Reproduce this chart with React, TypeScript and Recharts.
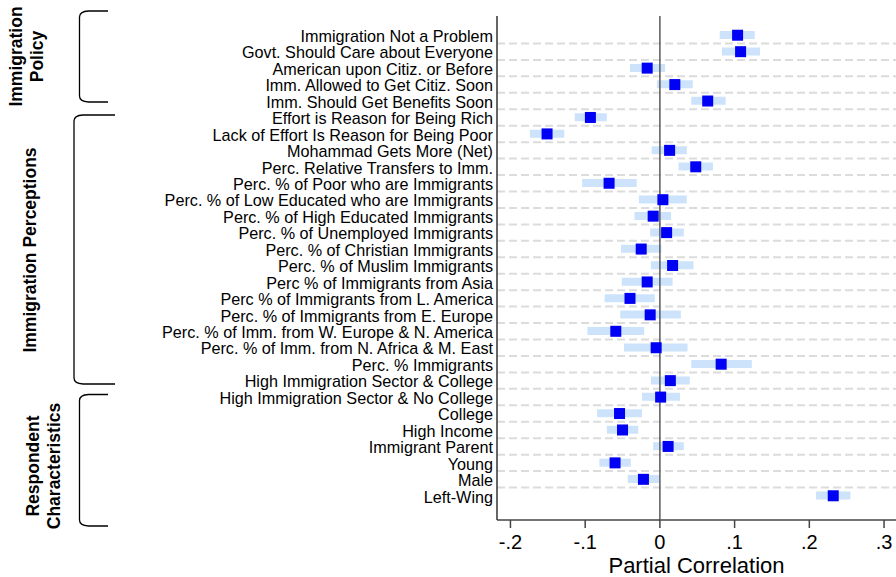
import React from "react";
import { Bar, ComposedChart, Line, ReferenceLine, XAxis, YAxis } from "recharts";

// Coefficient plot: partial correlations with 95% CI bands, grouped by bracketed blocks.
const labels = [
  "Immigration Not a Problem",
  "Govt. Should Care about Everyone",
  "American upon Citiz. or Before",
  "Imm. Allowed to Get Citiz. Soon",
  "Imm. Should Get Benefits Soon",
  "Effort is Reason for Being Rich",
  "Lack of Effort Is Reason for Being Poor",
  "Mohammad Gets More (Net)",
  "Perc. Relative Transfers to Imm.",
  "Perc. % of Poor who are Immigrants",
  "Perc. % of Low Educated who are Immigrants",
  "Perc. % of High Educated Immigrants",
  "Perc. % of Unemployed Immigrants",
  "Perc. % of Christian Immigrants",
  "Perc. % of Muslim Immigrants",
  "Perc % of Immigrants from Asia",
  "Perc % of Immigrants from L. America",
  "Perc. % of Immigrants from E. Europe",
  "Perc. % of Imm. from W. Europe & N. America",
  "Perc. % of Imm. from N. Africa & M. East",
  "Perc. % Immigrants",
  "High Immigration Sector & College",
  "High Immigration Sector & No College",
  "College",
  "High Income",
  "Immigrant Parent",
  "Young",
  "Male",
  "Left-Wing",
];

const estimates = [
  0.104, 0.108, -0.017, 0.02, 0.064, -0.093, -0.151, 0.013, 0.048, -0.068,
  0.004, -0.009, 0.009, -0.025, 0.017, -0.017, -0.04, -0.013, -0.059, -0.005,
  0.082, 0.014, 0.001, -0.054, -0.05, 0.011, -0.06, -0.022, 0.232,
];

const lower = [
  0.08, 0.083, -0.04, -0.004, 0.042, -0.114, -0.174, -0.011, 0.025, -0.104,
  -0.028, -0.034, -0.013, -0.052, -0.012, -0.051, -0.074, -0.053, -0.097, -0.048,
  0.042, -0.012, -0.024, -0.084, -0.071, -0.009, -0.081, -0.043, 0.209,
];

const upper = [
  0.127, 0.134, 0.007, 0.044, 0.088, -0.071, -0.128, 0.036, 0.071, -0.031,
  0.036, 0.015, 0.032, 0.002, 0.045, 0.017, -0.007, 0.028, -0.021, 0.037,
  0.123, 0.04, 0.027, -0.024, -0.029, 0.032, -0.039, -0.001, 0.255,
];

const xTicks = [-0.2, -0.1, 0, 0.1, 0.2, 0.3];

// row index doubles as the numeric position on the y axis
const rows = labels.map((label, i) => ({
  pos: i,
  label,
  est: estimates[i],
  ci: [lower[i], upper[i]],
}));

const rowTicks = labels.map((_, i) => i);
const gridLines = labels.slice(1).map((_, i) => i + 0.5);

const fmtTick = (v: number) => {
  if (v === 0) return "0";
  const s = String(Math.round(v * 10) / 10);
  return s.replace("0.", ".");
};

const FONT = '"Liberation Sans", Arial, Helvetica, sans-serif';

const Square = (props: any) => {
  const { cx, cy, index } = props;
  if (cx == null || cy == null) return <g key={`sq-${index}`} />;
  return <rect key={`sq-${index}`} x={cx - 5.5} y={cy - 5.5} width={11} height={11} fill="#0000f5" />;
};

function Bracket({ x, top, bottom, end }: { x: number; top: number; bottom: number; end: number }) {
  const d = `M ${end} ${top} L ${x + 9} ${top} Q ${x} ${top + 0.5} ${x} ${top + 6} L ${x} ${bottom - 6} Q ${x} ${bottom - 0.5} ${x + 9} ${bottom} L ${end} ${bottom}`;
  return <path d={d} fill="none" stroke="#000" strokeWidth={1.3} />;
}

function GroupText({ x, y, text }: { x: number; y: number; text: string }) {
  return (
    <text
      transform={`translate(${x},${y}) rotate(-90)`}
      textAnchor="middle"
      fontSize={17.5}
      fontWeight="bold"
      fontFamily={FONT}
      fill="#000"
    >
      {text}
    </text>
  );
}

export default function App() {
  return (
    <div style={{ position: "absolute", left: 0, top: 0, width: 896, height: 577, background: "#fff", fontFamily: FONT }}>
      <ComposedChart
        width={896}
        height={577}
        data={rows}
        layout="vertical"
        margin={{ top: 16, right: 0, bottom: 0, left: 0 }}
      >
        <XAxis
          type="number"
          domain={[-0.218, 0.316]}
          allowDataOverflow
          ticks={xTicks}
          tickFormatter={fmtTick}
          height={57}
          tickSize={8}
          tickMargin={7}
          axisLine={{ stroke: "#444", strokeWidth: 1.5 }}
          tickLine={{ stroke: "#444", strokeWidth: 1.5 }}
          tick={{ fill: "#000", fontSize: 20, fontFamily: FONT }}
          label={{ value: "Partial Correlation", position: "insideBottom", offset: 4, fill: "#000", fontSize: 22, fontFamily: FONT }}
        />
        <YAxis
          type="number"
          dataKey="pos"
          domain={[-0.5, labels.length - 0.5]}
          allowDataOverflow
          ticks={rowTicks}
          interval={0}
          tickFormatter={(i: number) => labels[i] ?? ""}
          width={497}
          padding={{ top: 11, bottom: 16 }}
          tickSize={0}
          tickMargin={4}
          tickLine={false}
          axisLine={{ stroke: "#333", strokeWidth: 1.5 }}
          tick={{ fill: "#000", fontSize: 16.2, fontFamily: FONT, dy: 1 }}
        />
        {gridLines.map((y) => (
          <ReferenceLine
            key={`g-${y}`}
            y={y}
            stroke="#dcdcdc"
            strokeWidth={2}
            strokeDasharray="8 4"
          />
        ))}
        <Bar dataKey="ci" barSize={8} fill="#cce3fb" isAnimationActive={false} />
        <ReferenceLine x={0} stroke="#5a5a5a" strokeWidth={1.5} />
        <Line
          dataKey="est"
          stroke="none"
          dot={Square}
          activeDot={false}
          isAnimationActive={false}
        />
      </ComposedChart>
      <svg
        width={896}
        height={577}
        style={{ position: "absolute", left: 0, top: 0, pointerEvents: "none" }}
      >
        <Bracket x={79.5} top={11} bottom={102} end={108} />
        <Bracket x={74} top={115} bottom={384} end={115} />
        <Bracket x={79.5} top={394.5} bottom={526} end={108} />
        <GroupText x={21.5} y={56.5} text="Immigration" />
        <GroupText x={42.5} y={56.5} text="Policy" />
        <GroupText x={36} y={250} text="Immigration Perceptions" />
        <GroupText x={38.5} y={466} text="Respondent" />
        <GroupText x={59.5} y={466} text="Characteristics" />
      </svg>
    </div>
  );
}
